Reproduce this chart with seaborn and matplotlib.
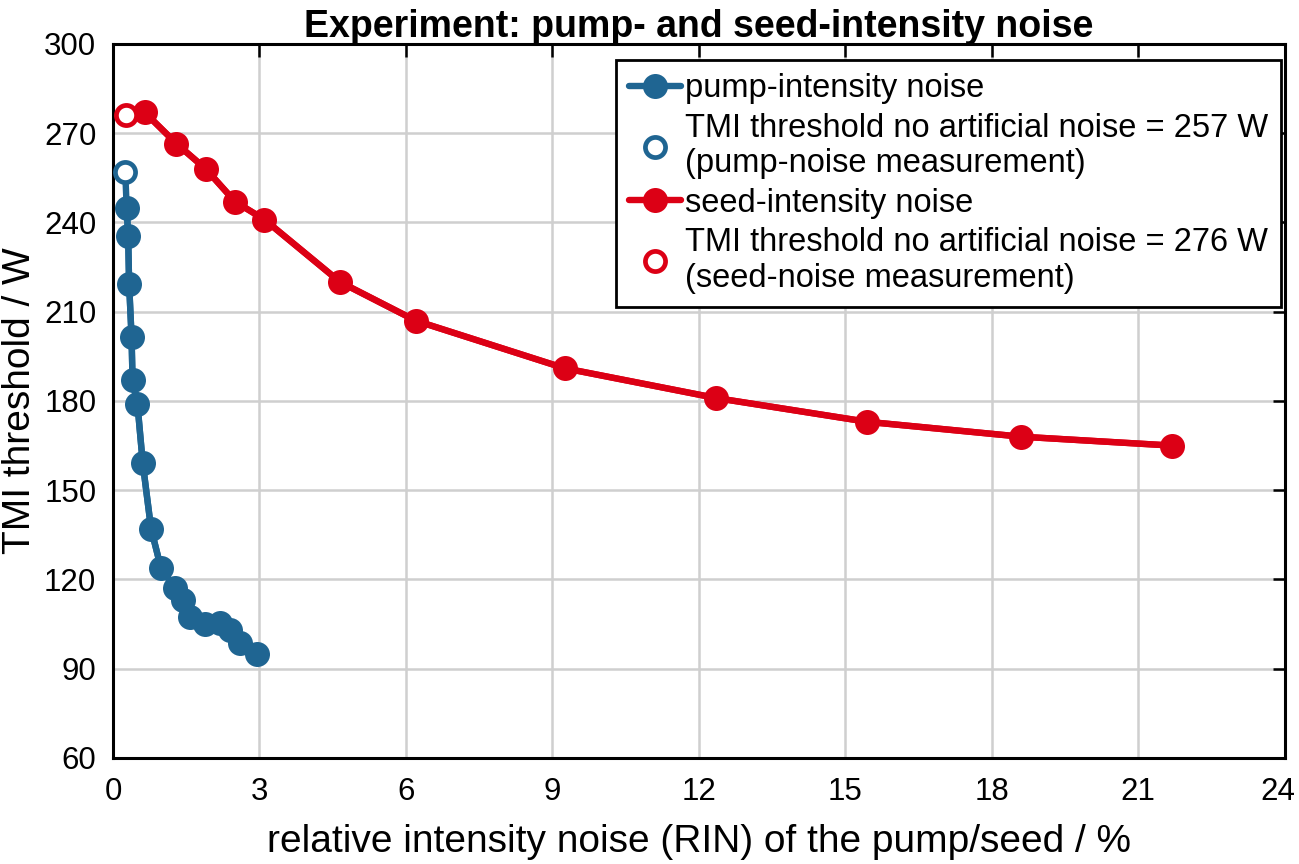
import matplotlib
matplotlib.use("Agg")
import matplotlib.pyplot as plt
import matplotlib.transforms as mtransforms
import seaborn as sns
import pandas as pd

# pump-intensity noise series
pump_x = [0.28, 0.31, 0.31, 0.33, 0.33, 0.33, 0.38, 0.38, 0.40, 0.50, 0.61,
          0.78, 0.98, 1.27, 1.43, 1.57, 1.88, 2.19, 2.39, 2.60, 2.94]
pump_y = [245, 239, 232, 225, 220, 213, 206, 197, 187, 179, 159,
          137, 124, 117, 113, 107.5, 105, 105.5, 103, 98.5, 95]
pump_ref_x = [0.25]
pump_ref_y = [257]

# seed-intensity noise series
seed_x = [0.65, 1.3, 1.9, 2.5, 3.1, 4.65, 6.2, 9.25, 12.35, 15.45, 18.6, 21.7]
seed_y = [277, 266.5, 258, 247, 241, 220, 207, 191, 181, 173, 168, 165]
seed_ref_x = [0.27]
seed_ref_y = [276]

x_ticks = [0, 3, 6, 9, 12, 15, 18, 21, 24]
y_ticks = [60, 90, 120, 150, 180, 210, 240, 270, 300]

title = "Experiment: pump- and seed-intensity noise"
xlabel = "relative intensity noise (RIN) of the pump/seed / %"
ylabel = "TMI threshold / W"
lab_pump = "pump-intensity noise"
lab_pump_ref = "TMI threshold no artificial noise = 257 W\n(pump-noise measurement)"
lab_seed = "seed-intensity noise"
lab_seed_ref = "TMI threshold no artificial noise = 276 W\n(seed-noise measurement)"

BLUE = "#1f6592"
RED = "#dc0015"

sns.set_theme(style="whitegrid")
plt.rcParams['font.family'] = ['Liberation Sans', 'DejaVu Sans']

fig = plt.figure(figsize=(12.99, 8.64), dpi=100)
ax = fig.add_axes([0.087, 0.1227, 0.902, 0.8264])

LW = 4.6
MS = 18

# connecting lines including reference points
pump_df = pd.DataFrame({"x": pump_ref_x + pump_x, "y": pump_ref_y + pump_y})
seed_df = pd.DataFrame({"x": seed_ref_x + seed_x, "y": seed_ref_y + seed_y})
sns.lineplot(data=pump_df, x="x", y="y", sort=False, color=BLUE, lw=LW, ax=ax, zorder=3)
sns.lineplot(data=seed_df, x="x", y="y", sort=False, color=RED, lw=LW, ax=ax, zorder=3)

# filled markers
sns.lineplot(x=pump_x, y=pump_y, sort=False, color=BLUE, lw=LW, marker='o',
             markersize=MS, markeredgewidth=0, ax=ax, label=lab_pump, zorder=4)
sns.lineplot(x=seed_x, y=seed_y, sort=False, color=RED, lw=LW, marker='o',
             markersize=MS, markeredgewidth=0, ax=ax, label=lab_seed, zorder=4)

# open reference markers
ax.plot(pump_ref_x, pump_ref_y, 'o', ms=14.5, mfc='white', mec=BLUE, mew=3.4,
        ls='none', label=lab_pump_ref, zorder=5)
ax.plot(seed_ref_x, seed_ref_y, 'o', ms=14.5, mfc='white', mec=RED, mew=3.4,
        ls='none', label=lab_seed_ref, zorder=5)

ax.set_xlim(0, 24)
ax.set_ylim(60, 300)
ax.set_xticks(x_ticks)
ax.set_yticks(y_ticks)
ax.tick_params(direction='in', length=9, width=1.8, top=True, right=True,
               labelsize=22.5, colors='black', pad=12)
ax.tick_params(axis='x', pad=14)
ax.grid(True, color='#cfcfcf', lw=1.8)
for s in ax.spines.values():
    s.set_visible(True)
    s.set_color('black')
    s.set_linewidth(2.2)
ax.set_facecolor('white')

ax.set_title(title, fontsize=27, fontweight='bold', pad=5, color='black')
ax.set_xlabel(xlabel, fontsize=28, labelpad=12, color='black')
ax.set_ylabel(ylabel, fontsize=28, color='black')
ax.yaxis.set_label_coords(-0.064, 0.5)

handles, labels = ax.get_legend_handles_labels()
order = [labels.index(l) for l in [lab_pump, lab_pump_ref, lab_seed, lab_seed_ref]]
leg = ax.legend([handles[i] for i in order], [labels[i] for i in order],
                loc='upper right', bbox_to_anchor=(0.9966, 0.977),
                fontsize=23.5, frameon=True, fancybox=False,
                edgecolor='black', framealpha=1, borderaxespad=0,
                handlelength=1.6, handletextpad=0.1, labelspacing=0.25,
                borderpad=0.4)
leg.get_frame().set_linewidth(2)
for t in leg.get_texts():
    t.set_color('black')

# keep the last x tick label inside the figure
fig.canvas.draw()
last = ax.xaxis.get_major_ticks()[-1].label1
last.set_transform(last.get_transform() +
                   mtransforms.ScaledTranslation(-5 / 72, 0, fig.dpi_scale_trans))

fig.savefig("out.png", dpi=100, facecolor='white')
